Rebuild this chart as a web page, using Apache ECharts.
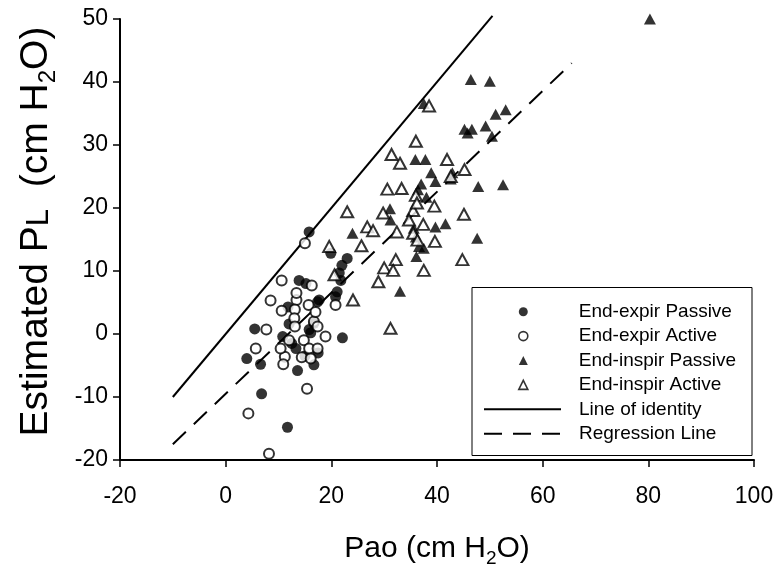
<!DOCTYPE html>
<html><head><meta charset="utf-8">
<script src="https://cdn.jsdelivr.net/npm/echarts@6/dist/echarts.min.js"></script>
<style>html,body{margin:0;padding:0;background:#fff}#c{width:782px;height:572px}</style>
</head><body><div id="c"></div>
<script>
// Pao (cm H2O), Estimated PL (cm H2O)
const endExpirPassive = [
  [15.8,16.2],[19.9,12.8],[23.0,12.0],[22.0,10.9],[21.5,9.7],[21.8,8.5],[21.1,6.7],[20.8,5.9],
  [13.9,8.5],[15.2,8.0],[17.4,5.1],[11.8,4.3],[10.8,-0.4],[5.5,0.8],[4.0,-3.9],[6.6,-4.8],
  [13.6,-5.8],[16.7,-4.9],[13.3,-2.3],[16.1,0.2],[16.7,1.7],[22.1,-0.6],[6.8,-9.5],[11.7,-14.8],
  [15.8,0.7],[12.5,-1.5],[15.0,-3.5],[17.5,-3.0],[12.0,1.6],[17.7,5.4]
];
const endExpirActive = [
  [15.0,14.4],[10.6,8.5],[16.3,7.7],[8.5,5.3],[10.6,3.7],[13.4,5.4],[13.1,3.9],[15.7,4.6],
  [13.4,6.5],[13.0,2.5],[13.1,1.2],[16.7,2.0],[17.0,3.5],[7.7,0.7],[5.7,-2.3],[11.2,-3.6],
  [10.9,-4.8],[12.0,-1.0],[14.8,-1.0],[15.8,-2.3],[14.4,-3.7],[16.1,-3.9],[17.4,-2.3],[18.9,-0.4],
  [10.4,-2.3],[15.4,-8.7],[4.3,-12.6],[8.2,-19.0],[20.8,4.6],[17.4,1.2]
];
const endInspirPassive = [
  [46.4,40.4],[50.0,40.1],[51.1,34.9],[53.0,35.6],[45.2,32.5],[46.6,32.5],[49.2,33.0],[50.4,31.4],
  [35.9,27.7],[37.8,27.7],[38.9,25.6],[39.7,24.2],[42.9,25.6],[42.6,24.6],[37.0,23.8],[36.4,22.9],
  [47.8,23.4],[52.5,23.7],[38.0,21.7],[31.1,19.9],[31.2,18.1],[24.0,16.0],[35.6,16.8],[39.7,17.0],
  [41.6,17.5],[36.0,15.4],[36.6,13.9],[37.5,13.6],[36.1,12.3],[47.6,15.2],[33.0,6.8],[80.3,50.0],
  [45.8,31.9],[37.5,36.6]
];
const endInspirActive = [
  [38.5,36.2],[36.0,30.6],[31.4,28.5],[33.0,27.1],[41.9,27.7],[45.2,26.1],[30.6,23.0],[33.3,23.1],
  [23.0,19.4],[29.8,19.2],[26.8,17.0],[27.9,16.4],[25.7,14.0],[32.4,16.2],[36.0,22.0],[39.5,20.3],
  [37.4,17.4],[39.6,14.7],[45.1,19.0],[44.8,11.8],[35.5,19.6],[34.7,18.1],[35.5,16.0],[36.3,14.9],
  [32.2,11.8],[30.0,10.5],[31.7,10.1],[28.9,8.3],[37.5,10.1],[24.1,5.4],[19.6,13.9],[31.2,0.9],
  [20.6,9.4],[42.6,25.0],[36.2,20.8]
];
const identityLine = [[-10,-10],[50.5,50.5]];
const regressionLine = [[-10,-17.5],[65.5,43]];

const scatterNames = ['End-expir Passive','End-expir Active','End-inspir Passive','End-inspir Active'];
const lineNames = ['Line of identity','Regression Line'];

const chart = echarts.init(document.getElementById('c'), null, {renderer:'canvas'});
const FONT = '"Liberation Sans", Arial, sans-serif';
function rich(fs) {
  return {
    a: {fontSize: fs, fontFamily: FONT, color: '#000', lineHeight: fs + 8},
    l: {fontSize: Math.round(fs*0.8), fontFamily: FONT, color: '#000', lineHeight: fs + 8, padding:[Math.round(fs*0.15),0,0,0]},
    s: {fontSize: Math.round(fs*0.62), fontFamily: FONT, color: '#000', lineHeight: Math.round(fs*0.62), verticalAlign: 'bottom'}
  };
}
const legendText = (pad) => ({fontSize: 19, fontFamily: FONT, color: '#000', lineHeight: 24.4, padding: [0,0,0,pad]});
chart.setOption({
  animation: false,
  backgroundColor: '#fff',
  grid: {left: 120, right: 28, top: 19, bottom: 112, containLabel: false, outerBoundsMode: 'none'},
  xAxis: {
    type: 'value', min: -20, max: 100, interval: 20,
    name: '{a|Pao (cm H}{s|2}{a|O)}', nameLocation: 'middle', nameGap: 70,
    nameTextStyle: {rich: rich(30)},
    axisLine: {onZero: false, lineStyle: {color: '#000', width: 2}},
    axisTick: {show: true, length: 7, lineStyle: {color: '#000', width: 1.5}},
    axisLabel: {fontSize: 23, fontFamily: FONT, color: '#000', margin: 25},
    splitLine: {show: false}
  },
  yAxis: {
    type: 'value', min: -20, max: 50, interval: 10,
    name: '{a|Estimated P}{l|L}{a|  (cm H}{s|2}{a|O)}', nameLocation: 'middle', nameGap: 60,
    nameTextStyle: {rich: rich(39), padding: [0, 0, 0, 16]},
    axisLine: {onZero: false, lineStyle: {color: '#000', width: 2}},
    axisTick: {show: true, length: 7, lineStyle: {color: '#000', width: 1.5}},
    axisLabel: {fontSize: 23, fontFamily: FONT, color: '#000', margin: 12},
    splitLine: {show: false}
  },
  legend: [
    {
      orient: 'vertical', left: 518, top: 299.5, itemWidth: 9, itemHeight: 9, itemGap: 0, padding: 0,
      symbolKeepAspect: true,
      textStyle: legendText(46),
      data: scatterNames.map((n, i) => ({name: n, itemStyle: i % 2 ? {borderWidth: 1.6} : {}}))
    },
    {
      orient: 'vertical', left: 483, top: 397.1, itemWidth: 77, itemHeight: 9, itemGap: 0, padding: 0,
      textStyle: legendText(13),
      data: lineNames.map(n => ({name: n, itemStyle: {opacity: 0, color: 'rgba(0,0,0,0)', borderWidth: 0}}))
    }
  ],
  graphic: [{type: 'rect', shape: {x: 472, y: 287.5, width: 280, height: 168}, style: {fill: 'none', stroke: '#000', lineWidth: 1}, silent: true}],
  series: [
    {name: scatterNames[0], type: 'scatter', data: endExpirPassive, symbol: 'circle', symbolSize: 11,
     itemStyle: {color: '#000'}, z: 3},
    {name: scatterNames[1], type: 'scatter', data: endExpirActive, symbol: 'circle', symbolSize: 10,
     itemStyle: {color: '#fff', borderColor: '#000', borderWidth: 2}, z: 4},
    {name: scatterNames[2], type: 'scatter', data: endInspirPassive, symbol: 'triangle', symbolSize: [12, 11],
     symbolKeepAspect: true, itemStyle: {color: '#000'}, z: 3},
    {name: scatterNames[3], type: 'scatter', data: endInspirActive, symbol: 'triangle', symbolSize: [12, 11],
     symbolKeepAspect: true, itemStyle: {color: '#fff', borderColor: '#000', borderWidth: 2}, z: 4},
    {name: lineNames[0], type: 'line', data: identityLine, symbol: 'none', clip: false,
     lineStyle: {color: '#000', width: 2, type: 'solid'}, itemStyle: {color: '#000'}, z: 2},
    {name: lineNames[1], type: 'line', data: regressionLine, symbol: 'none', clip: false,
     lineStyle: {color: '#000', width: 2, type: [18, 11]}, itemStyle: {color: '#000'}, z: 2}
  ]
});
</script></body></html>
